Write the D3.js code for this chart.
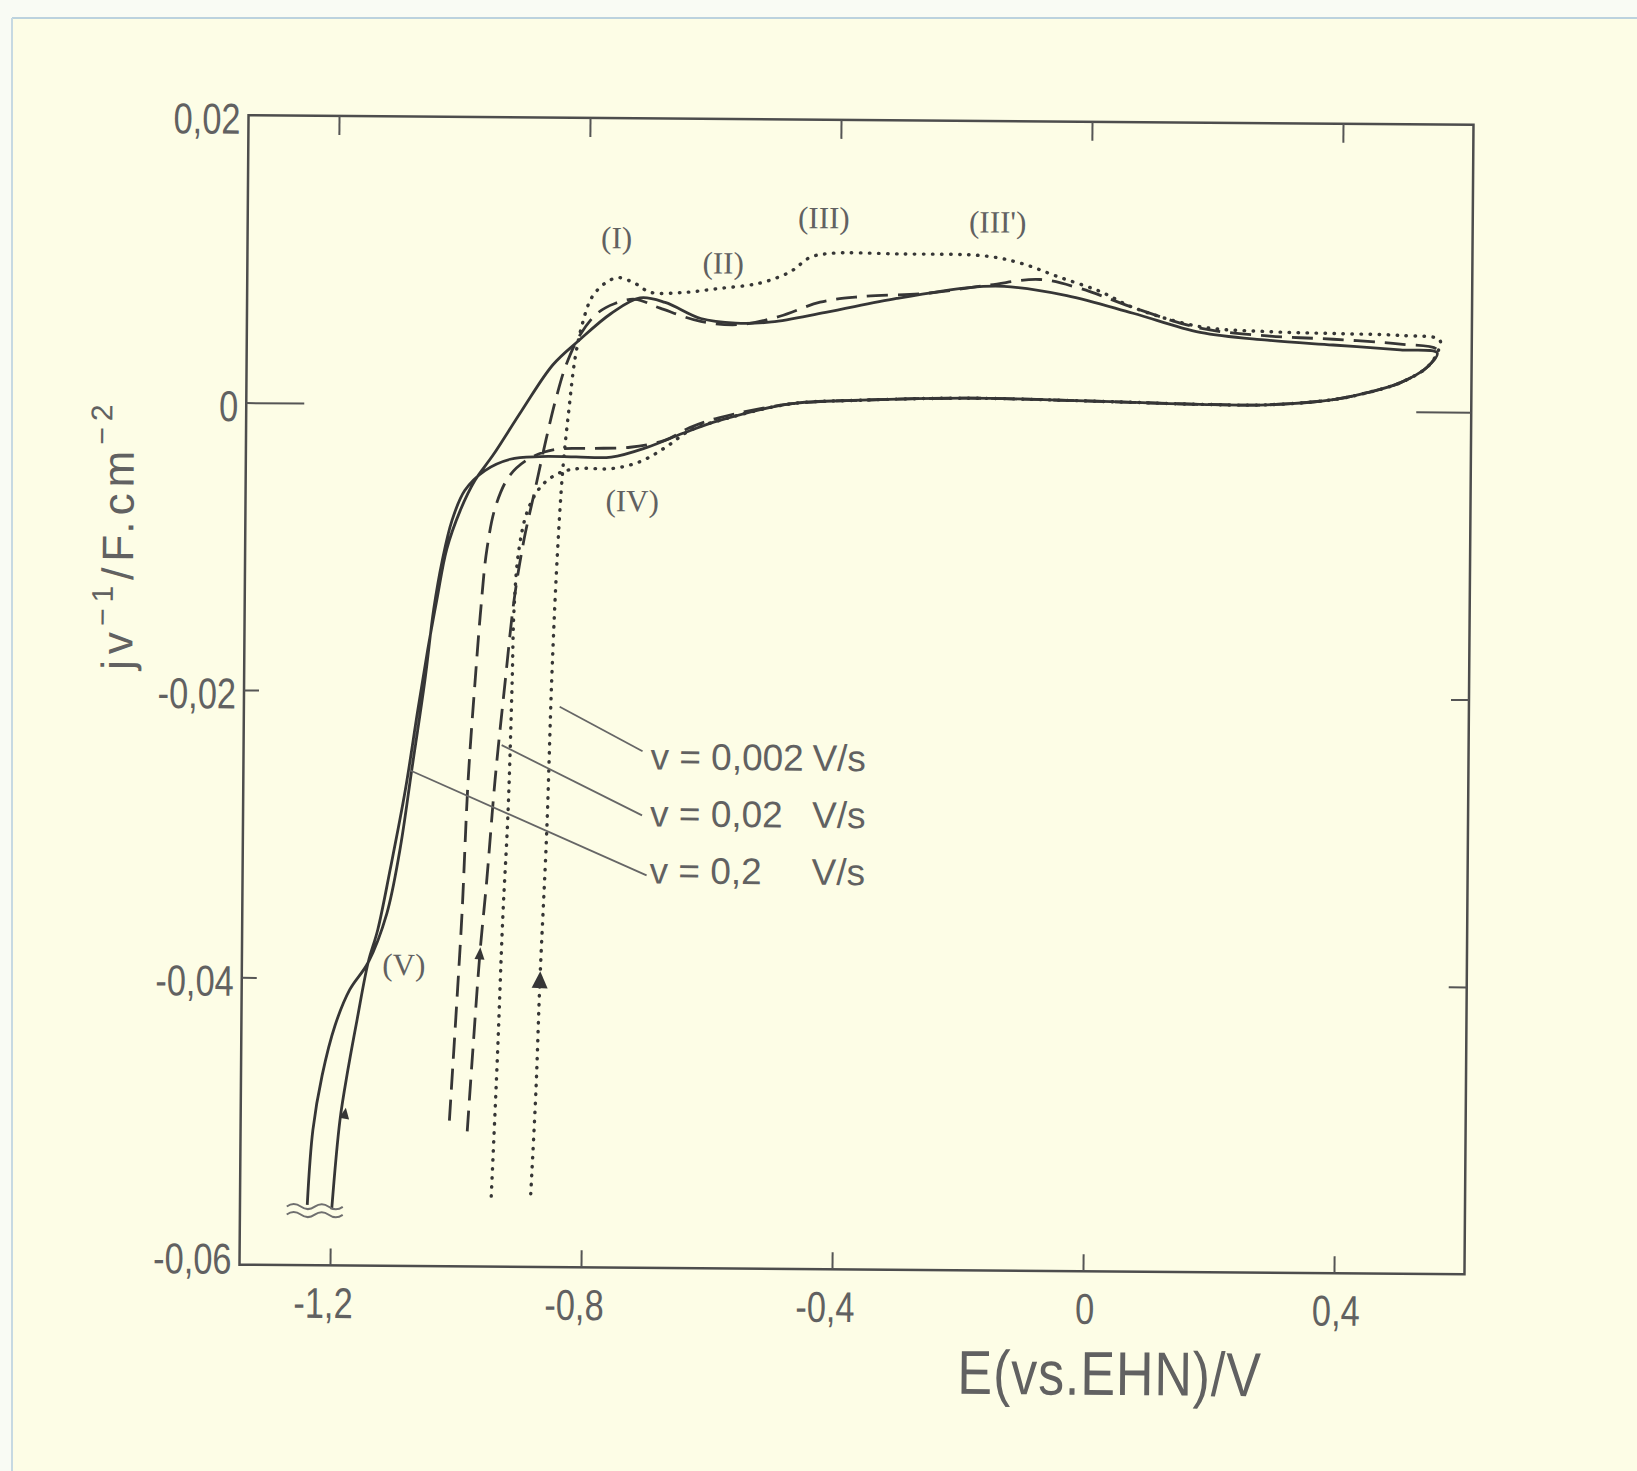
<!DOCTYPE html>
<html>
<head>
<meta charset="utf-8">
<script src="https://cdn.jsdelivr.net/npm/d3@7"></script>
<style>
    html, body { margin: 0; padding: 0; background: #fdfde6; }
    svg { display: block; }
</style>
</head>
<body>
<svg id="figure" width="1637" height="1471"></svg>
<script>
// axis ticks
const xTicks = [-1.2, -0.8, -0.4, 0, 0.4];
const xTickLabels = ['-1,2', '-0,8', '-0,4', '0', '0,4'];
const yTicks = [0.02, 0, -0.02, -0.04, -0.06];
const yTickLabels = ['0,02', '0', '-0,02', '-0,04', '-0,06'];
const yTicksRight = [0, -0.02, -0.04];

// [E / V, j v^-1 / F cm^-2]
// shared return sweep (cathodic) from the vertex at +0.55 V
const returnSweep = [
    [0.553, 0.0041], [0.537, 0.0031], [0.494, 0.0020], [0.442, 0.0013], [0.388, 0.0008],
    [0.282, 0.0004], [0.176, 0.0004], [0.069, 0.0005], [-0.036, 0.0006], [-0.193, 0.0007],
    [-0.365, 0.0005], [-0.478, 0.0002]
];

// v = 0.2 V/s (solid)
const anodic02 = [
    [-1.198, -0.0561], [-1.186, -0.0499], [-1.174, -0.0464], [-1.160, -0.0429], [-1.143, -0.0389],
    [-1.128, -0.0366], [-1.109, -0.0324], [-1.086, -0.0269], [-1.067, -0.0213], [-1.052, -0.0171],
    [-1.038, -0.0136], [-1.023, -0.0101], [-1.002, -0.0074], [-0.979, -0.0053], [-0.950, -0.0035],
    [-0.905, -0.0004], [-0.856, 0.0028], [-0.815, 0.0045], [-0.764, 0.0064], [-0.718, 0.0075],
    [-0.678, 0.0072], [-0.621, 0.0061], [-0.565, 0.0058], [-0.508, 0.0059], [-0.422, 0.0066],
    [-0.309, 0.0076], [-0.194, 0.0084], [-0.138, 0.0085], [-0.038, 0.0079], [0.068, 0.0067],
    [0.175, 0.0054], [0.282, 0.0049], [0.387, 0.0046], [0.494, 0.0043], [0.553, 0.0041]
];
const cathodic02 = [
    [-0.591, -0.0010], [-0.648, -0.0019], [-0.705, -0.0029], [-0.762, -0.0036], [-0.818, -0.0036],
    [-0.876, -0.0036], [-0.923, -0.0038], [-0.963, -0.0046], [-0.995, -0.0060], [-1.015, -0.0081],
    [-1.030, -0.0109], [-1.043, -0.0143], [-1.056, -0.0192], [-1.076, -0.0255], [-1.094, -0.0311],
    [-1.114, -0.0355], [-1.143, -0.0389], [-1.172, -0.0408], [-1.195, -0.0433], [-1.215, -0.0468],
    [-1.229, -0.0506], [-1.237, -0.0558]
];

// v = 0.02 V/s (dashed)
const anodic002 = [
    [-0.983, -0.0506], [-0.975, -0.0449], [-0.965, -0.0382], [-0.955, -0.0331], [-0.943, -0.0261],
    [-0.928, -0.0192], [-0.915, -0.0136], [-0.900, -0.0094], [-0.883, -0.0059], [-0.866, -0.0024],
    [-0.851, 0.0004], [-0.835, 0.0028], [-0.813, 0.0049], [-0.786, 0.0064], [-0.758, 0.0071],
    [-0.726, 0.0074], [-0.686, 0.0068], [-0.621, 0.0059], [-0.558, 0.0057], [-0.495, 0.0063],
    [-0.431, 0.0073], [-0.368, 0.0077], [-0.256, 0.0080], [-0.160, 0.0086], [-0.081, 0.0090],
    [-0.017, 0.0084], [0.068, 0.0071], [0.175, 0.0057], [0.282, 0.0052], [0.387, 0.0050],
    [0.494, 0.0047], [0.553, 0.0043]
];
const cathodic002 = [
    [-0.591, -0.0008], [-0.637, -0.0015], [-0.677, -0.0024], [-0.732, -0.0029], [-0.796, -0.0030],
    [-0.852, -0.0031], [-0.891, -0.0037], [-0.923, -0.0049], [-0.945, -0.0070], [-0.959, -0.0101],
    [-0.968, -0.0143], [-0.976, -0.0192], [-0.986, -0.0262], [-0.994, -0.0354], [-1.000, -0.0406],
    [-1.012, -0.0502]
];

// v = 0.002 V/s (dotted)
const anodic0002 = [
    [-0.881, -0.0549], [-0.874, -0.0477], [-0.869, -0.0400], [-0.860, -0.0296], [-0.854, -0.0191],
    [-0.847, -0.0108], [-0.839, -0.0045], [-0.830, -0.0003], [-0.821, 0.0032], [-0.810, 0.0056],
    [-0.795, 0.0075], [-0.774, 0.0085], [-0.753, 0.0089], [-0.726, 0.0085], [-0.702, 0.0079],
    [-0.650, 0.0079], [-0.592, 0.0082], [-0.527, 0.0086], [-0.479, 0.0094], [-0.448, 0.0104],
    [-0.416, 0.0107], [-0.304, 0.0107], [-0.167, 0.0106], [-0.110, 0.0101], [-0.052, 0.0092],
    [0.015, 0.0082], [0.068, 0.0071], [0.175, 0.0058], [0.282, 0.0055], [0.387, 0.0054],
    [0.494, 0.0053], [0.557, 0.0050], [0.553, 0.0041]
];
const cathodic0002 = [
    [-0.591, -0.0010], [-0.637, -0.0017], [-0.676, -0.0029], [-0.716, -0.0039], [-0.762, -0.0044],
    [-0.812, -0.0044], [-0.843, -0.0047], [-0.872, -0.0056], [-0.894, -0.0073], [-0.908, -0.0101],
    [-0.915, -0.0143], [-0.917, -0.0192], [-0.922, -0.0284], [-0.929, -0.0357], [-0.936, -0.0456],
    [-0.944, -0.0552]
];

// sweep direction arrows (on the anodic branches)
const arrowSeries = ['solid', 'dashed', 'dotted'];
const arrowE = [-1.178, -0.965, -0.869];
const arrowJ = [-0.0494, -0.0382, -0.0400];

// peak labels
const peakLabels = ['(I)', '(II)', '(III)', "(III')", '(IV)', '(V)'];
const peakE = [-0.756, -0.586, -0.426, -0.149, -0.728, -1.086];
const peakJ = [0.0117, 0.0100, 0.0132, 0.0130, -0.0066, -0.0390];

// scan rate captions, with the curve point each leader starts from
const rateLabels = ['v = 0,002', 'v = 0,02', 'v = 0,2'];
const leaderE = [-0.841, -0.933, -1.079];
const leaderJ = [-0.0210, -0.0237, -0.0255];

// off-scale break on the 0.2 V/s curve
const breakE = -1.225;
const breakJ = -0.0562;

(function () {
    'use strict';

    let ink = '#363636';
    let textInk = '#616161';
    let sans = "'Liberation Sans', Arimo, sans-serif";

    let plotLeft = 244, plotRight = 1469, plotTop = 120, plotBottom = 1269.5;

    let x = d3.scaleLinear().domain([-1.2, 0.4]).range([334.5, 1338.5]);
    let y = d3.scaleLinear().domain([-0.06, 0.02]).range([plotBottom, plotTop]);

    let svg = d3.select('#figure');

    // scanned page edge
    svg.append('rect').attr('x', 0).attr('y', 0).attr('width', 1637).attr('height', 1471)
        .style('fill', '#fdfde6');
    svg.append('rect').attr('x', 0).attr('y', 0).attr('width', 1637).attr('height', 18)
        .style('fill', '#f9fbf4');
    svg.append('rect').attr('x', 0).attr('y', 0).attr('width', 12).attr('height', 1471)
        .style('fill', '#f9fbf4');
    svg.append('line').attr('x1', 12).attr('y1', 18).attr('x2', 1637).attr('y2', 18)
        .style('stroke', '#bcd2de').style('stroke-width', 2);
    svg.append('line').attr('x1', 12).attr('y1', 18).attr('x2', 12).attr('y2', 1471)
        .style('stroke', '#c6d9e2').style('stroke-width', 2);

    // the figure sits slightly tilted on the scan
    let mainArea = svg.append('g')
        .attr('transform', 'rotate(0.45, 856, 695)');

    mainArea.append('rect')
        .attr('x', plotLeft)
        .attr('y', plotTop)
        .attr('width', plotRight - plotLeft)
        .attr('height', plotBottom - plotTop)
        .style('fill', 'none')
        .style('stroke', '#4d4d4d')
        .style('stroke-width', 2.5);

    // axes
    let xAxisBottom = d3.axisBottom(x)
        .tickValues(xTicks)
        .tickSize(-17)
        .tickPadding(22)
        .tickFormat(function (d, i) { return xTickLabels[i]; });
    let bottomG = mainArea.append('g')
        .attr('transform', 'translate(0,' + plotBottom + ')')
        .call(xAxisBottom);

    let xAxisTop = d3.axisTop(x)
        .tickValues(xTicks)
        .tickSize(-19)
        .tickFormat(function () { return ''; });
    let topG = mainArea.append('g')
        .attr('transform', 'translate(0,' + plotTop + ')')
        .call(xAxisTop);

    let yAxisLeft = d3.axisLeft(y)
        .tickValues(yTicks)
        .tickSize(0)
        .tickPadding(10)
        .tickFormat(function (d, i) { return yTickLabels[i]; });
    let leftG = mainArea.append('g')
        .attr('transform', 'translate(' + plotLeft + ',0)')
        .call(yAxisLeft);
    leftG.selectAll('.tick line')
        .attr('x2', function (d) {
            if (d === 0) { return 58; }
            if (d === -0.02 || d === -0.04) { return 15; }
            return 0;
        });
    leftG.selectAll('.tick text')
        .attr('dy', function (d) { return d === -0.06 ? '0.2em' : '0.42em'; });

    let yAxisRight = d3.axisRight(y)
        .tickValues(yTicksRight)
        .tickSize(0)
        .tickFormat(function () { return ''; });
    let rightG = mainArea.append('g')
        .attr('transform', 'translate(' + plotRight + ',0)')
        .call(yAxisRight);
    rightG.selectAll('.tick line')
        .attr('x2', function (d) { return d === 0 ? -55 : -18; });

    bottomG.selectAll('.tick text')
        .attr('dx', function (d) { return d < 0 ? -9 : 2; });

    // the lettering on the original is tall and condensed
    [bottomG, topG, leftG, rightG].forEach(function (g) {
        g.select('.domain').remove();
        g.selectAll('.tick line')
            .style('stroke', '#555')
            .style('stroke-width', 2);
        g.selectAll('.tick text')
            .attr('font-family', sans)
            .attr('font-size', 43)
            .attr('transform', 'scale(0.8,1)')
            .style('fill', textInk);
    });

    // axis titles
    mainArea.append('text')
        .attr('transform', 'translate(1115,1393) scale(0.84,1)')
        .attr('text-anchor', 'middle')
        .attr('font-family', sans)
        .attr('font-size', 62)
        .attr('letter-spacing', 1)
        .style('fill', textInk)
        .text('E(vs.EHN)/V');

    let yTitle = mainArea.append('text')
        .attr('transform', 'translate(132,540) rotate(-90)')
        .attr('text-anchor', 'middle')
        .attr('font-family', sans)
        .attr('font-size', 44)
        .attr('letter-spacing', 6)
        .style('fill', textInk);
    yTitle.append('tspan').text('jv');
    yTitle.append('tspan').attr('dy', -20).attr('font-size', 30).text('−1');
    yTitle.append('tspan').attr('dy', 20).text('/F.cm');
    yTitle.append('tspan').attr('dy', -22).attr('font-size', 30).text('−2');

    // curves
    let line = d3.line()
        .x(function (d) { return x(d[0]); })
        .y(function (d) { return y(d[1]); })
        .curve(d3.curveCatmullRom.alpha(0.5));

    let loops = [
        { points: anodic0002.concat(returnSweep.slice(1), cathodic0002), dash: '0.5 8.5', width: 3.4 },
        { points: anodic002.concat(returnSweep.slice(1), cathodic002), dash: '21 10', width: 2.8 },
        { points: anodic02.concat(returnSweep.slice(1), cathodic02), dash: null, width: 2.8 }
    ];

    mainArea.append('g')
        .selectAll('path')
        .data(loops)
        .enter()
        .append('path')
        .attr('d', function (d) { return line(d.points); })
        .style('fill', 'none')
        .style('stroke', ink)
        .style('stroke-width', function (d) { return d.width; })
        .style('stroke-linecap', function (d) { return d.dash && d.dash[0] === '0' ? 'round' : 'butt'; })
        .style('stroke-linejoin', 'round')
        .style('stroke-dasharray', function (d) { return d.dash; });

    // direction arrows, pointing along the anodic sweep
    let anodicBySeries = { solid: anodic02, dashed: anodic002, dotted: anodic0002 };
    let arrowSize = { solid: [5, 11], dashed: [5, 12], dotted: [8, 17] };
    mainArea.append('g')
        .selectAll('path')
        .data(arrowSeries)
        .enter()
        .append('path')
        .attr('d', function (s) {
            let w = arrowSize[s][0], h = arrowSize[s][1];
            return 'M0,' + (-h / 2) + 'L' + w + ',' + (h / 2) + 'L' + (-w) + ',' + (h / 2) + 'Z';
        })
        .attr('transform', function (s, i) {
            let pts = anodicBySeries[s];
            let k = d3.bisector(function (p) { return p[1]; }).left(pts, arrowJ[i]);
            let a = pts[Math.max(k - 1, 0)], b = pts[Math.min(k, pts.length - 1)];
            let ang = Math.atan2(x(b[0]) - x(a[0]), y(a[1]) - y(b[1])) * 180 / Math.PI;
            return 'translate(' + x(arrowE[i]) + ',' + y(arrowJ[i]) + ') rotate(' + ang + ')';
        })
        .style('fill', ink);

    // off-scale break mark
    let bx = x(breakE), by = y(breakJ);
    [-4, 4].forEach(function (off) {
        mainArea.append('path')
            .attr('d', 'M' + (bx - 28) + ',' + (by + off) +
                ' q7,-5 14,0 t14,0 t14,0 t14,0')
            .style('fill', 'none')
            .style('stroke', '#6f6f6f')
            .style('stroke-width', 2);
    });

    // peak labels
    mainArea.append('g')
        .selectAll('text')
        .data(peakLabels)
        .enter()
        .append('text')
        .attr('x', function (d, i) { return x(peakE[i]); })
        .attr('y', function (d, i) { return y(peakJ[i]); })
        .attr('dy', '0.35em')
        .attr('text-anchor', 'middle')
        .attr('font-family', "'Liberation Serif', 'DejaVu Serif', serif")
        .attr('font-size', 31)
        .style('fill', textInk)
        .text(function (d) { return d; });

    // scan rate captions with leader lines
    let rowBaseline = [771, 828, 885];
    let leaderEnd = [[643, 753], [643, 817], [648, 877]];
    let captions = mainArea.append('g');
    captions.selectAll('line')
        .data(rateLabels)
        .enter()
        .append('line')
        .attr('x1', function (d, i) { return x(leaderE[i]); })
        .attr('y1', function (d, i) { return y(leaderJ[i]); })
        .attr('x2', function (d, i) { return leaderEnd[i][0]; })
        .attr('y2', function (d, i) { return leaderEnd[i][1]; })
        .style('stroke', '#666')
        .style('stroke-width', 1.8);
    captions.selectAll('text.rate')
        .data(rateLabels)
        .enter()
        .append('text')
        .attr('class', 'rate')
        .attr('x', 651)
        .attr('y', function (d, i) { return rowBaseline[i]; })
        .attr('font-family', sans)
        .attr('font-size', 37)
        .style('fill', textInk)
        .text(function (d) { return d; });
    captions.selectAll('text.unit')
        .data(rateLabels)
        .enter()
        .append('text')
        .attr('class', 'unit')
        .attr('x', 813)
        .attr('y', function (d, i) { return rowBaseline[i]; })
        .attr('font-family', sans)
        .attr('font-size', 37)
        .style('fill', textInk)
        .text('V/s');
})();
</script>
</body>
</html>
